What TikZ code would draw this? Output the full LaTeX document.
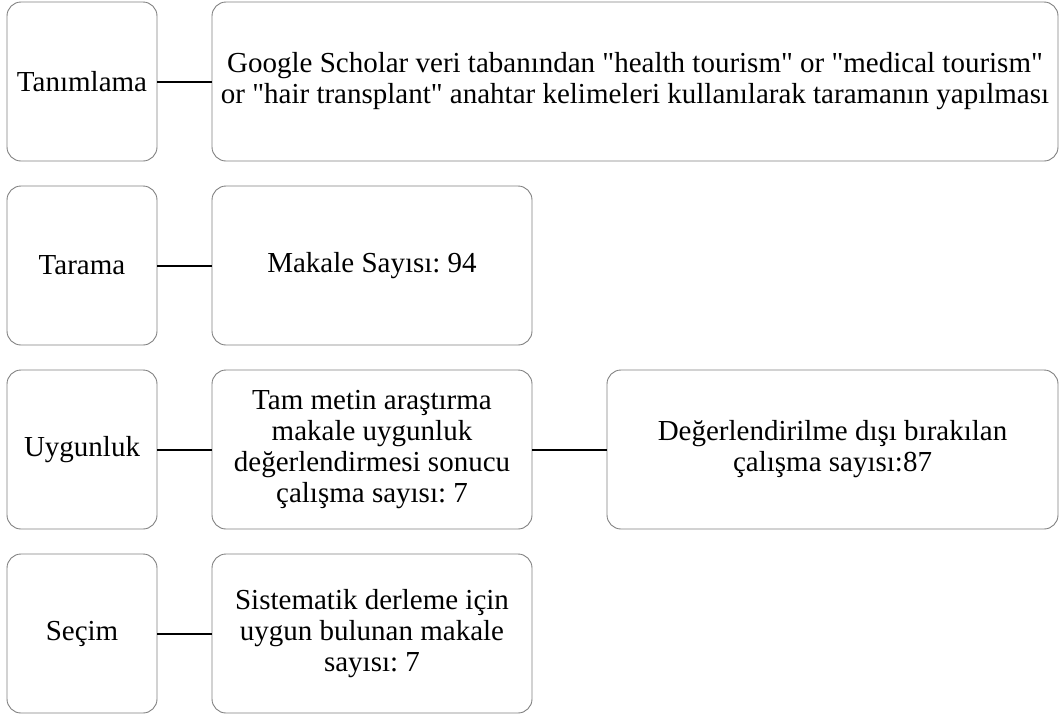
\documentclass[tikz,border=0pt]{standalone}
\usepackage{fontspec}
\setmainfont{Liberation Serif}[Ligatures=TeXOff]
\frenchspacing
\begin{document}
\begin{tikzpicture}[x=1pt,y=-1pt,
  box/.style={draw=black!50,line width=0.9pt,rounded corners=14pt,align=center,
    inner sep=0pt,font=\fontsize{29}{31}\selectfont,text=black},
  link/.style={draw=black,line width=2pt}]
\useasboundingbox (0,0) rectangle (1059,715);
\newcommand{\bx}[6]{\node[box,minimum width=#4-#2,minimum height=#5-#3] (#1) at ({(#2+#4)/2},{(#3+#5)/2}) {#6};}
\bx{l1}{7}{2}{157}{161}{Tanımlama}
\bx{m1}{212}{2}{1058}{161}{Google Scholar veri tabanından "health tourism" or "medical tourism"\\or "hair transplant" anahtar kelimeleri kullanılarak taramanın yapılması}
\bx{l2}{7}{186}{157}{345}{Tarama}
\bx{m2}{212}{186}{532}{345}{Makale Sayısı: 94}
\bx{l3}{7}{370}{157}{529}{Uygunluk}
\bx{m3}{212}{370}{532}{529}{Tam metin araştırma\\makale uygunluk\\değerlendirmesi sonucu\\çalışma sayısı: 7}
\bx{r3}{607}{370}{1058}{529}{Değerlendirilme dışı bırakılan\\çalışma sayısı:87}
\bx{l4}{7}{554}{157}{713}{Seçim}
\bx{m4}{212}{554}{532}{713}{Sistematik derleme için\\uygun bulunan makale\\sayısı: 7}
\draw[link] (l1) -- (m1);
\draw[link] (l2) -- (m2);
\draw[link] (l3) -- (m3);
\draw[link] (m3) -- (r3);
\draw[link] (l4) -- (m4);
\end{tikzpicture}
\end{document}
